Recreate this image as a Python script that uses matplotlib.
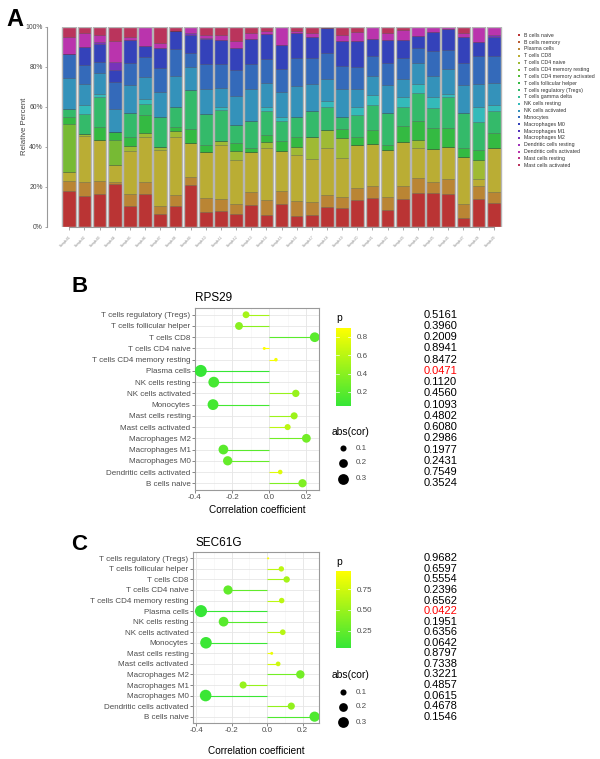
import colorsys
import numpy as np
import matplotlib
matplotlib.use("Agg")
import matplotlib.pyplot as plt
from matplotlib.cm import ScalarMappable
from matplotlib.colors import LinearSegmentedColormap, Normalize
from matplotlib.transforms import blended_transform_factory

plt.rcParams['font.family'] = ['Liberation Sans', 'DejaVu Sans']

# ---- panel A: CIBERSORT composition (percent per sample) ----
cell_types = ["B cells naive", "B cells memory", "Plasma cells", "T cells CD8",
              "T cells CD4 naive", "T cells CD4 memory resting",
              "T cells CD4 memory activated", "T cells follicular helper",
              "T cells regulatory (Tregs)", "T cells gamma delta",
              "NK cells resting", "NK cells activated", "Monocytes",
              "Macrophages M0", "Macrophages M1", "Macrophages M2",
              "Dendritic cells resting", "Dendritic cells activated",
              "Mast cells resting", "Mast cells activated"]

samples = ["Sample01", "Sample02", "Sample03", "Sample04", "Sample05", "Sample06",
           "Sample07", "Sample08", "Sample09", "Sample10", "Sample11", "Sample12",
           "Sample13", "Sample14", "Sample15", "Sample16", "Sample17", "Sample18",
           "Sample19", "Sample20", "Sample21", "Sample22", "Sample23", "Sample24",
           "Sample25", "Sample26", "Sample27", "Sample28", "Sample29"]

b_naive = [17.8, 15.3, 16.5, 21.2, 10.2, 16.5, 6.3, 10.3, 20.8, 7.5, 8.0, 6.5, 10.7, 5.8, 11.5,
           5.3, 5.8, 9.7, 9.2, 13.3, 14.5, 8.3, 13.8, 17.0, 16.7, 16.2, 4.2, 13.8, 12.0]
plasma = [4.9, 7.0, 6.3, 1.0, 6.1, 5.8, 4.0, 5.5, 4.2, 6.7, 6.0, 5.0, 6.5, 7.7, 6.2,
          7.4, 6.4, 6.1, 5.8, 5.9, 5.8, 6.4, 6.5, 7.2, 5.5, 7.5, 7.3, 6.5, 5.5]
t_cd8 = [4.5, 22.9, 20.7, 8.8, 21.5, 22.7, 28.0, 28.9, 16.7, 23.3, 26.7, 21.7, 20.1, 26.0, 20.3,
         23.3, 21.5, 23.4, 19.2, 21.6, 21.2, 23.6, 21.9, 15.3, 16.5, 16.3, 23.2, 3.4, 22.0]
t_cd4_naive = [0, 1.3, 0, 0, 2.5, 2.0, 1.5, 3.3, 0, 0, 2.3, 4.8, 0, 3.0, 0,
               4.0, 11.0, 9.1, 10.3, 0, 0, 0, 0, 3.8, 0, 0, 0, 9.6, 0]
t_cd4_mem_rest = [24.0, 0, 0, 12.2, 0, 0, 0, 0, 0, 0, 0, 0, 0, 0, 0,
                  0, 0, 0, 0, 0, 0, 0, 0, 0, 0, 0, 0, 0, 0]
t_fh = [3.8, 0, 6.3, 4.0, 4.4, 8.7, 0, 2.0, 7.1, 3.2, 0, 4.0, 1.9, 3.3, 5.0,
        5.0, 0, 0, 4.2, 3.9, 6.8, 2.5, 8.1, 9.7, 10.5, 9.2, 4.5, 5.0, 7.5]
t_reg = [3.8, 9.7, 15.0, 0, 12.0, 5.6, 15.2, 9.7, 19.7, 15.5, 15.2, 8.7, 13.8, 12.2, 10.0,
         9.7, 13.3, 11.7, 6.0, 11.0, 12.5, 15.9, 9.7, 14.0, 10.0, 15.5, 17.8, 13.9, 10.8]
nk_rest = [0, 4.8, 1.5, 0, 0, 2.4, 0, 0, 0, 0, 1.5, 0, 0, 1.7, 2.0,
           0, 0, 3.0, 0, 4.3, 5.0, 0, 4.7, 4.2, 5.8, 1.8, 0, 7.5, 3.0]
nk_act = [15.7, 10.2, 10.7, 11.6, 14.0, 11.0, 12.5, 15.8, 11.3, 12.6, 9.5, 14.6, 16.0, 12.0, 12.5,
          15.6, 13.3, 10.8, 14.0, 8.7, 9.5, 14.0, 9.3, 10.5, 10.3, 12.2, 13.8, 11.5, 10.9]
monocytes = [11.7, 9.5, 5.5, 13.7, 11.3, 10.0, 11.7, 13.2, 7.2, 12.7, 12.3, 13.0, 12.5, 12.1, 11.2,
             13.9, 12.9, 12.9, 11.8, 11.3, 10.2, 11.3, 10.2, 7.8, 12.7, 9.6, 11.2, 14.1, 13.6]
mac_m0 = [0, 9.0, 8.8, 5.8, 11.3, 5.6, 10.0, 9.1, 8.8, 12.2, 11.8, 11.0, 12.5, 12.5, 12.1,
          12.8, 10.5, 12.5, 12.2, 13.0, 8.2, 11.3, 9.1, 5.8, 9.5, 10.5, 12.7, 6.9, 9.4]
mac_m2 = [0, 0, 0.9, 4.2, 0, 0, 0, 0, 0.9, 0.8, 0, 0, 0, 0, 0,
          0, 0, 0, 0, 0, 0, 0, 0, 0, 0, 0, 0, 0, 1.1]
dc_act = [8.8, 7.0, 3.8, 10.3, 1.7, 9.7, 2.5, 0, 3.3, 1.2, 2.7, 3.7, 3.0, 1.4, 9.2,
          1.0, 2.0, 0, 3.1, 4.5, 6.3, 3.4, 5.0, 4.7, 2.5, 1.2, 2.0, 7.8, 4.2]
mast_act = [5.0, 3.3, 4.0, 7.2, 5.0, 0, 8.3, 2.2, 0, 4.3, 4.0, 7.0, 3.0, 2.3, 0,
            2.0, 3.3, 0.8, 4.2, 2.5, 0, 3.3, 1.7, 0, 0, 0, 3.3, 0, 0]

# cell types with non-zero fractions (others are 0 in every sample)
composition = {
    "B cells naive": b_naive,
    "Plasma cells": plasma,
    "T cells CD8": t_cd8,
    "T cells CD4 naive": t_cd4_naive,
    "T cells CD4 memory resting": t_cd4_mem_rest,
    "T cells follicular helper": t_fh,
    "T cells regulatory (Tregs)": t_reg,
    "NK cells resting": nk_rest,
    "NK cells activated": nk_act,
    "Monocytes": monocytes,
    "Macrophages M0": mac_m0,
    "Macrophages M2": mac_m2,
    "Dendritic cells activated": dc_act,
    "Mast cells activated": mast_act,
}

# ---- panels B/C: correlation of gene expression with immune cells ----
cor_cells = ["T cells regulatory (Tregs)", "T cells follicular helper", "T cells CD8",
             "T cells CD4 naive", "T cells CD4 memory resting", "Plasma cells",
             "NK cells resting", "NK cells activated", "Monocytes", "Mast cells resting",
             "Mast cells activated", "Macrophages M2", "Macrophages M1", "Macrophages M0",
             "Dendritic cells activated", "B cells naive"]
rps29_cor = [-0.125, -0.163, 0.245, -0.027, 0.036, -0.369, -0.299, 0.143, -0.303, 0.134,
             0.099, 0.200, -0.247, -0.224, 0.059, 0.179]
rps29_p = [0.5161, 0.3960, 0.2009, 0.8941, 0.8472, 0.0471, 0.1120, 0.4560, 0.1093, 0.4802,
           0.6080, 0.2986, 0.1977, 0.2431, 0.7549, 0.3524]
sec61g_cor = [0.006, 0.080, 0.110, -0.220, 0.082, -0.372, -0.245, 0.088, -0.344, 0.026,
              0.062, 0.187, -0.135, -0.346, 0.136, 0.267]
sec61g_p = [0.9682, 0.6597, 0.5554, 0.2396, 0.6562, 0.0422, 0.1951, 0.6356, 0.0642, 0.8797,
            0.7338, 0.3221, 0.4857, 0.0615, 0.4678, 0.1546]
size_breaks = [0.1, 0.2, 0.3]

W, H = 600, 759
fig = plt.figure(figsize=(W / 100, H / 100), dpi=100)


def box(left, top, right, bottom):
    return [left / W, 1 - bottom / H, (right - left) / W, (bottom - top) / H]


palette = {name: colorsys.hsv_to_rgb(i / 20, 0.72, 0.73) for i, name in enumerate(cell_types)}

# overlay in pixel coordinates for hand-placed legends and labels
ov = fig.add_axes([0, 0, 1, 1])
ov.set_xlim(0, W)
ov.set_ylim(H, 0)
ov.axis('off')

# ---------------- panel A ----------------
axA = fig.add_axes(box(47, 26.7, 516, 226.7))
x = np.arange(len(samples))
vals = np.array(list(composition.values()), dtype=float)
vals = vals / vals.sum(axis=0)
bottom = np.zeros(len(samples))
for name, row in zip(composition.keys(), vals):
    axA.bar(x, row, 0.9, bottom=bottom, color=palette[name],
            edgecolor=(0, 0, 0, 0.35), linewidth=0.4, zorder=2)
    bottom += row
axA.bar(x, bottom, 0.9, fill=False, edgecolor='#b5b5b5', linewidth=1.0, zorder=3)
axA.set_xlim(-1.47, 29.47)
axA.set_ylim(0, 1)
for s in ['top', 'right']:
    axA.spines[s].set_visible(False)
axA.spines['left'].set_color('#999999')
axA.spines['bottom'].set_color('#999999')
axA.spines['bottom'].set_bounds(0, len(samples) - 1)
axA.set_yticks(np.linspace(0, 1, 6))
axA.set_yticklabels([f"{int(v)}%" for v in np.linspace(0, 100, 6)])
axA.tick_params(axis='y', labelsize=4.9, colors='#999999', labelcolor='#444444',
                length=1.8, width=0.6, pad=1.2)
axA.set_xticks(x)
axA.set_xticklabels(samples, rotation=45, ha='right', rotation_mode='anchor')
axA.tick_params(axis='x', labelsize=2.3, colors='#999999', labelcolor='#888888', length=2.5, width=0.6)
fig.text(25 / W, 1 - 126.7 / H, "Relative Percent", fontsize=5.6, color='#444444',
         rotation=90, ha='center', va='center')

for i, name in enumerate(cell_types):
    yy = 35.3 + 6.84 * i
    ov.scatter(519, yy, marker='s', s=4.5, color=palette[name], linewidths=0)
    ov.text(523.5, yy, name, fontsize=3.8, color='#333333', va='center', ha='left')

fig.text(15 / W, 1 - 19 / H, "A", fontsize=17, fontweight='bold', ha='center', va='center')

# ---------------- panels B / C ----------------
p_cmap = LinearSegmentedColormap.from_list('p', ['#36e636', '#ffff00'])
LAB = 5.8


def dot_area(r):
    d_px = np.maximum(2.0, -0.33 + 20.3 * np.sqrt(np.abs(np.asarray(r, dtype=float))))
    return (d_px * 0.72) ** 2


def lollipop(ax, cor, pvals, xlim, xticks):
    n = len(cor_cells)
    y = np.arange(n, 0, -1)
    norm = Normalize(min(pvals), max(pvals))
    cols = p_cmap(norm(pvals))
    for t in np.arange(-0.5, 0.35, 0.1):
        ax.axvline(t, color='#f4f4f4', lw=0.4, zorder=0)
    for t in xticks:
        ax.axvline(t, color='#e6e6e6', lw=0.6, zorder=0)
    for yi in y:
        ax.axhline(yi, color='#e6e6e6', lw=0.6, zorder=0)
    for yi, r, c in zip(y, cor, cols):
        ax.plot([0, r], [yi, yi], color=c, lw=0.8, zorder=2, solid_capstyle='butt')
    ax.scatter(cor, y, s=dot_area(cor), c=cols, linewidths=0, zorder=3)
    ax.set_xlim(*xlim)
    ax.set_ylim(0.4, n + 0.6)
    ax.set_yticks(y)
    ax.set_yticklabels(cor_cells)
    ax.set_xticks(xticks)
    ax.set_xticklabels([f"{t:.1f}" for t in xticks])
    ax.tick_params(labelsize=LAB, labelcolor='#4d4d4d', colors='#555555', length=2, width=0.5, pad=1.2)
    for s in ax.spines.values():
        s.set_color('#9a9a9a')
        s.set_linewidth(0.8)
    return norm, y


def p_legend(norm, ticks, labels, cb_box, p_y, abs_y, dot_ys):
    cax = fig.add_axes(box(*cb_box))
    cb = fig.colorbar(ScalarMappable(norm=norm, cmap=p_cmap), cax=cax)
    cb.outline.set_visible(False)
    cb.set_ticks(ticks)
    cb.set_ticklabels(labels)
    cax.tick_params(length=0, labelsize=LAB, labelcolor='#4d4d4d', pad=4)
    for t in ticks:
        cax.plot([0, 0.2], [t, t], color='white', lw=0.5)
        cax.plot([0.8, 1], [t, t], color='white', lw=0.5)
    ov.text(336, p_y, "p", fontsize=7.4, va='center', ha='left')
    ov.text(332, abs_y, "abs(cor)", fontsize=7.4, va='center', ha='left')
    for v, yy in zip(size_breaks, dot_ys):
        ov.scatter(343, yy, s=dot_area(v), color='black', linewidths=0)
        ov.text(356, yy, f"{v}", fontsize=LAB, color='#4d4d4d', va='center')


def p_column(ax, y, pvals):
    trans = blended_transform_factory(fig.transFigure, ax.transData)
    for yi, p in zip(y, pvals):
        ax.text(424 / W, yi, f"{p:.4f}", transform=trans, fontsize=8, va='center', ha='left',
                color='red' if p < 0.05 else 'black', clip_on=False)


axB = fig.add_axes(box(195, 308, 319, 490))
normB, yB = lollipop(axB, rps29_cor, rps29_p, (-0.40, 0.268), [-0.4, -0.2, 0.0, 0.2])
p_legend(normB, [0.2, 0.4, 0.6, 0.8], ["0.2", "0.4", "0.6", "0.8"],
         (336, 328, 351, 406), 318, 432, [448, 463, 479])
p_column(axB, yB, rps29_p)
fig.text(195 / W, 1 - 298 / H, "RPS29", fontsize=8.5, va='center', ha='left')
fig.text(257 / W, 1 - 510 / H, "Correlation coefficient", fontsize=7.2, va='center', ha='center')
fig.text(80 / W, 1 - 287 / H, "B", fontsize=16, fontweight='bold', ha='center', va='center')

axC = fig.add_axes(box(193, 552, 319, 723))
normC, yC = lollipop(axC, sec61g_cor, sec61g_p, (-0.417, 0.292), [-0.4, -0.2, 0.0, 0.2])
p_legend(normC, [0.25, 0.5, 0.75], ["0.25", "0.50", "0.75"],
         (336, 571, 351, 648), 562, 675, [692, 707, 722])
p_column(axC, yC, sec61g_p)
fig.text(195 / W, 1 - 543 / H, "SEC61G", fontsize=8.5, va='center', ha='left')
fig.text(256 / W, 1 - 751 / H, "Correlation coefficient", fontsize=7.2, va='center', ha='center')
fig.text(79 / W, 1 - 545 / H, "C", fontsize=16, fontweight='bold', ha='center', va='center')

fig.savefig("out.png", dpi=100)
plt.close(fig)
